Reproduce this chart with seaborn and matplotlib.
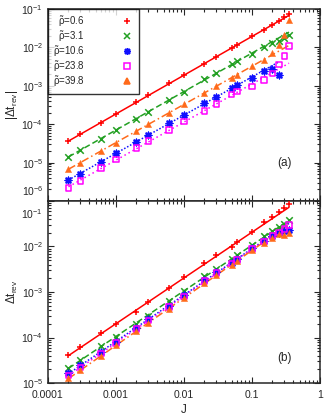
import numpy as np
import pandas as pd
import matplotlib
matplotlib.use("Agg")
import matplotlib.pyplot as plt
import matplotlib.ticker as mticker
import matplotlib.transforms as mtransforms
from matplotlib.lines import Line2D
import seaborn as sns

# coupling values J (shared by all curves)
J = [0.0002, 0.0003, 0.0006, 0.001, 0.002, 0.003, 0.006, 0.01, 0.02, 0.03,
     0.05, 0.06, 0.1, 0.15, 0.2, 0.25, 0.3, 0.35]

rho_labels = ["0.6", "3.1", "10.6", "23.8", "39.8"]

# panel (a): |Delta t_rev|
a_rho06 = [3.7e-5, 5.5e-5, 1.1e-4, 1.8e-4, 3.7e-4, 5.7e-4, 1.15e-3, 1.9e-3, 3.8e-3, 5.5e-3,
           9.5e-3, 1.15e-2, 2.0e-2, 2.9e-2, 3.9e-2, 4.8e-2, 6.1e-2, 7.2e-2]
a_rho31 = [1.44e-5, 2.1e-5, 4.2e-5, 7.0e-5, 1.4e-4, 2.1e-4, 4.2e-4, 7.0e-4, 1.5e-3, 2.1e-3,
           3.7e-3, 4.3e-3, 6.8e-3, 1.0e-2, 1.28e-2, 1.5e-2, 1.8e-2, 2.15e-2]
a_rho106 = [3.5e-6, 5.2e-6, 1.05e-5, 1.75e-5, 3.5e-5, 5.3e-5, 1.05e-4, 1.7e-4, 3.5e-4, 5.2e-4,
            8.7e-4, 1.05e-3, 1.6e-3, 2.45e-3, 2.8e-3, 1.9e-3, np.nan, np.nan]
a_rho238 = [2.2e-6, 3.3e-6, 7.2e-6, 1.2e-5, 2.4e-5, 3.6e-5, 7.1e-5, 1.17e-4, 2.2e-4, 3.4e-4,
            6.0e-4, 7.1e-4, 9.5e-4, 1.4e-3, 2.1e-3, 3.55e-3, 5.9e-3, 1.07e-2]
a_rho398 = [6.7e-6, 1.0e-5, 2.0e-5, 3.3e-5, 6.6e-5, 1.0e-4, 2.0e-4, 3.3e-4, 6.6e-4, 1.0e-3,
            1.6e-3, 1.94e-3, 3.2e-3, 4.7e-3, 7.0e-3, 1.16e-2, 2.1e-2, 5.3e-2]

# panel (b): Delta t_rev
b_rho06 = [4.1e-5, 6.1e-5, 1.24e-4, 1.98e-4, 3.7e-4, 5.9e-4, 1.2e-3, 2.1e-3, 4.3e-3, 6.4e-3,
           9.9e-3, 1.24e-2, 2.05e-2, 3.4e-2, 4.5e-2, 5.65e-2, 6.9e-2, 8.6e-2]
b_rho31 = [2.17e-5, 3.2e-5, 6.5e-5, 1.04e-4, 2.0e-4, 3.0e-4, 6.2e-4, 1.05e-3, 2.25e-3, 3.2e-3,
           5.3e-3, 6.5e-3, 1.08e-2, 1.7e-2, 2.15e-2, 2.64e-2, 3.1e-2, 3.8e-2]
b_rho106 = [1.63e-5, 2.45e-5, 4.9e-5, 8.1e-5, 1.65e-4, 2.5e-4, 5.0e-4, 8.5e-4, 1.84e-3, 2.7e-3,
            4.3e-3, 5.3e-3, 9.1e-3, 1.35e-2, 1.7e-2, 2.0e-2, 2.15e-2, 2.3e-2]
b_rho238 = [1.45e-5, 2.2e-5, 4.5e-5, 7.5e-5, 1.55e-4, 2.35e-4, 4.7e-4, 8.0e-4, 1.75e-3, 2.6e-3,
            4.2e-3, 5.1e-3, 8.7e-3, 1.3e-2, 1.7e-2, 2.05e-2, 2.4e-2, 2.97e-2]
b_rho398 = [1.27e-5, 1.9e-5, 3.9e-5, 6.7e-5, 1.38e-4, 2.1e-4, 4.3e-4, 7.3e-4, 1.6e-3, 2.4e-3,
            3.9e-3, 4.8e-3, 8.2e-3, 1.2e-2, 1.55e-2, 1.85e-2, 1.8e-2, 1.95e-2]

colors = ["#ff0000", "#22a022", "#1010ff", "#ff00ff", "#ff6a1a"]
markers = ["+", "x", (8, 2, 0), "s", "^"]
linestyles = ["-", (0, (4, 2)), (0, (1, 1.2)), (0, (1, 2)), (0, (5, 2, 1, 2))]

sns.set_style("ticks")
plt.rcParams["font.family"] = ["Liberation Sans", "DejaVu Sans"]
plt.rcParams["mathtext.fontset"] = "custom"
plt.rcParams["mathtext.rm"] = "Liberation Sans"
plt.rcParams["mathtext.it"] = "Liberation Sans:italic"
plt.rcParams["mathtext.default"] = "regular"
fs = 7.5

fig = plt.figure(figsize=(3.24, 4.19), dpi=100)
ax_a = fig.add_axes([48 / 324, 1 - 201 / 419, 272 / 324, 192 / 419])
ax_b = fig.add_axes([48 / 324, 1 - 383 / 419, 272 / 324, 182 / 419])


def draw_panel(ax, series):
    for k, vals in enumerate(series):
        df = pd.DataFrame({"J": J, "dt": vals}).dropna()
        # power-law fit on the low-J part
        fit = df[df["J"] <= 0.1]
        p = np.polyfit(np.log10(fit["J"]), np.log10(fit["dt"]), 1)
        jj = np.array([df["J"].min(), df["J"].max()])
        ax.plot(jj, 10 ** np.polyval(p, np.log10(jj)), color=colors[k],
                ls=linestyles[k], lw=1.1, zorder=2)
        kw = dict(marker=markers[k], s=22, linewidth=1.1, zorder=3, legend=False)
        if markers[k] == "s":
            kw.update(color=colors[k], facecolor="none", edgecolor=colors[k], s=16)
        elif markers[k] == "^":
            kw.update(color=colors[k], edgecolor=colors[k], linewidth=0.3, s=20)
        else:
            kw.update(color=colors[k])
        sns.scatterplot(data=df, x="J", y="dt", ax=ax, **kw)
    ax.set_xscale("log")
    ax.set_yscale("log")
    ax.set_xlim(1e-4, 1)
    ax.set_xticks([1e-4, 1e-3, 1e-2, 1e-1, 1])
    ax.xaxis.set_minor_locator(mticker.LogLocator(base=10, subs=np.arange(2, 10), numticks=10))
    ax.yaxis.set_minor_locator(mticker.LogLocator(base=10, subs=np.arange(2, 10), numticks=10))
    ax.tick_params(which="both", direction="in", top=True, right=True, labelsize=fs, width=0.8)
    ax.tick_params(which="major", length=4)
    ax.tick_params(which="minor", length=2)
    for sp in ax.spines.values():
        sp.set_linewidth(1.1)
    ax.set_xlabel("")


draw_panel(ax_a, [a_rho06, a_rho31, a_rho106, a_rho238, a_rho398])
draw_panel(ax_b, [b_rho06, b_rho31, b_rho106, b_rho238, b_rho398])

ax_a.set_yticks([1e-6, 1e-5, 1e-4, 1e-3, 1e-2, 1e-1])
ax_b.set_yticks([1e-5, 1e-4, 1e-3, 1e-2, 1e-1])
ax_a.set_ylim(1e-6, 1e-1)
ax_b.set_ylim(1e-5, 1e-1)
ax_a.tick_params(labelbottom=False)
ax_b.tick_params(axis="x", pad=5)
ax_b.xaxis.set_major_formatter(mticker.FixedFormatter(["0.0001", "0.001", "0.01", "0.1", "1"]))

ax_a.set_ylabel(r"$|\Delta t_{rev}|$", fontsize=8.5, labelpad=1)
ax_b.set_ylabel(r"$\Delta t_{rev}$", fontsize=8.5, labelpad=1)
ax_b.set_xlabel("J", fontsize=8.5, labelpad=3)

ax_a.text(0.897, 0.198, "(a)", transform=ax_a.transAxes, fontsize=8.5, ha="right", va="center")
ax_b.text(0.897, 0.137, "(b)", transform=ax_b.transAxes, fontsize=8.5, ha="right", va="center")

handles = []
for k, lab in enumerate(rho_labels):
    if markers[k] == "s":
        h = Line2D([], [], ls="none", marker="s", mfc="none", mec=colors[k], ms=4.5, mew=1.1)
    else:
        h = Line2D([], [], ls="none", marker=markers[k], color=colors[k], ms=5, mew=1.1)
    handles.append(h)
leg = ax_a.legend(handles, [r"$\tilde{\rho}$=" + l for l in rho_labels], loc="upper left",
                  markerfirst=False, frameon=True, fancybox=False, borderaxespad=0,
                  fontsize=7, handlelength=1.5, handletextpad=3.6, labelspacing=0.0,
                  borderpad=0.5)
leg.get_frame().set_edgecolor("black")
leg.get_frame().set_linewidth(1.0)

# keep the edge labels of the two panels apart
fig.canvas.draw()
up = mtransforms.ScaledTranslation(0, 11 / 100, fig.dpi_scale_trans)
down = mtransforms.ScaledTranslation(0, -12 / 100, fig.dpi_scale_trans)
tick_a = ax_a.yaxis.get_major_ticks()[0]
tick_a.label1.set_transform(tick_a.label1.get_transform() + up)
tick_b = ax_b.yaxis.get_major_ticks()[-1]
tick_b.label1.set_transform(tick_b.label1.get_transform() + down)

fig.savefig("out.png", dpi=100)
